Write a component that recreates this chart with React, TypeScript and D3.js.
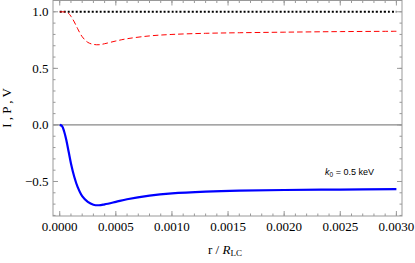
import React from 'react';
import * as d3 from 'd3';

// r / R_LC samples and curves
const rVals = [0, 0.00002, 0.00004, 0.00006, 0.00008, 0.0001, 0.00013, 0.00016, 0.0002, 0.00025, 0.0003, 0.00035, 0.0004, 0.0005, 0.0006, 0.0008, 0.001, 0.0013, 0.0016, 0.002, 0.0025, 0.003];
const pVals = [1, 1, 0.999, 0.996, 0.985, 0.96, 0.91, 0.85, 0.78, 0.73, 0.712, 0.709, 0.718, 0.742, 0.762, 0.787, 0.8, 0.81, 0.815, 0.82, 0.825, 0.828];
const vVals = [0, -0.01, -0.06, -0.14, -0.24, -0.34, -0.46, -0.55, -0.63, -0.68, -0.705, -0.71, -0.702, -0.68, -0.657, -0.625, -0.605, -0.589, -0.58, -0.575, -0.571, -0.568];
const iVals = rVals.map(() => 1);

const xTicks = [0, 0.0005, 0.001, 0.0015, 0.002, 0.0025, 0.003];
const yTicks = [-0.5, 0, 0.5, 1];

const W = 415, H = 263;
const left = 53, right = 402, top = 0.5, bottom = 216;

const x = d3.scaleLinear().domain([-0.00006, 0.00305]).range([left, right]);
const y = d3.scaleLinear().domain([-0.805, 1.1]).range([bottom, top]);

const mkLine = (vals: number[]) =>
  d3.line<number>().x((d, i) => x(rVals[i])).y((d) => y(d)).curve(d3.curveCatmullRom.alpha(0.5))(vals) || '';

const fmtX = (d: number) => d.toFixed(4);
const fmtY = (d: number) => (d < 0 ? '\u2212' + Math.abs(d).toFixed(1) : d.toFixed(1));

export default function App() {
  const xMinor = d3.range(0, 0.00305, 0.0001);
  const yMinor = d3.range(-0.8, 1.1, 0.1);
  const frame = '#999';
  return (
    <svg width={W} height={H} style={{ position: 'absolute', left: 0, top: 0 }}>
      {/* zero axis */}
      <line x1={left} x2={right} y1={y(0)} y2={y(0)} stroke="#888" strokeWidth={1.2} />

      {/* curves */}
      <path d={mkLine(iVals)} fill="none" stroke="#000" strokeWidth={2} strokeDasharray="2,2" />
      <path d={mkLine(pVals)} fill="none" stroke="#f00" strokeWidth={1} strokeDasharray="5.5,3" />
      <path d={mkLine(vVals)} fill="none" stroke="#0000ff" strokeWidth={2.2} />

      {/* frame */}
      <rect x={left} y={top} width={right - left} height={bottom - top} fill="none" stroke={frame} strokeWidth={1} />

      {/* minor ticks */}
      {xMinor.map((t, i) => (
        <g key={'xm' + i} stroke={frame}>
          <line x1={x(t)} x2={x(t)} y1={bottom} y2={bottom - 2.5} />
          <line x1={x(t)} x2={x(t)} y1={top} y2={top + 2.5} />
        </g>
      ))}
      {yMinor.map((t, i) => (
        <g key={'ym' + i} stroke={frame}>
          <line x1={left} x2={left + 2.5} y1={y(t)} y2={y(t)} />
          <line x1={right} x2={right - 2.5} y1={y(t)} y2={y(t)} />
        </g>
      ))}

      {/* major ticks + labels */}
      {xTicks.map((t) => (
        <g key={'x' + t}>
          <line x1={x(t)} x2={x(t)} y1={bottom} y2={bottom - 5} stroke={frame} />
          <line x1={x(t)} x2={x(t)} y1={top} y2={top + 5} stroke={frame} />
          <text x={x(t)} y={231} textAnchor="middle" fontFamily="Liberation Serif" fontSize={13}>
            {fmtX(t)}
          </text>
        </g>
      ))}
      {yTicks.map((t) => (
        <g key={'y' + t}>
          <line x1={left} x2={left + 5} y1={y(t)} y2={y(t)} stroke={frame} />
          <line x1={right} x2={right - 5} y1={y(t)} y2={y(t)} stroke={frame} />
          <text x={48.5} y={y(t)} dy="0.34em" textAnchor="end" fontFamily="Liberation Serif" fontSize={13}>
            {fmtY(t)}
          </text>
        </g>
      ))}

      {/* axis titles */}
      <text transform="translate(11,108) rotate(-90)" textAnchor="middle" fontFamily="Liberation Serif" fontSize={13}>
        I , P , V
      </text>
      <text x={225} y={254} textAnchor="middle" fontFamily="Liberation Serif" fontSize={13}>
        r / <tspan fontStyle="italic">R</tspan>
        <tspan fontSize={9} dy={2}>LC</tspan>
      </text>

      {/* annotation */}
      <text x={325} y={175} fontFamily="Liberation Sans" fontSize={9}>
        <tspan fontStyle="italic">k</tspan>
        <tspan fontSize={6.5} dy={1.5}>0</tspan>
        <tspan dy={-1.5}> = 0.5 keV</tspan>
      </text>
    </svg>
  );
}
